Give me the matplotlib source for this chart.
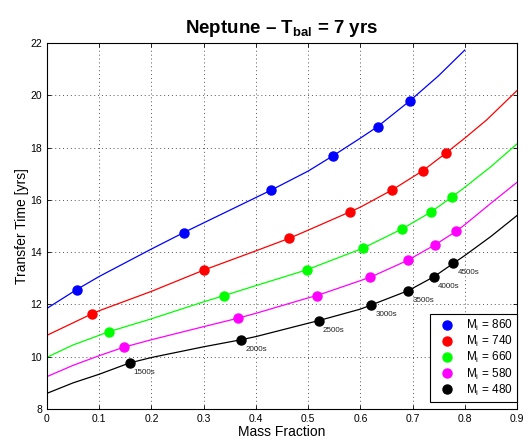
import numpy as np
import matplotlib
matplotlib.use("Agg")
import matplotlib.pyplot as plt

plt.rcParams.update({"font.family": ["Liberation Sans", "DejaVu Sans"],
                     "mathtext.fontset": "custom",
                     "mathtext.rm": "Liberation Sans",
                     "mathtext.it": "Liberation Sans:italic",
                     "mathtext.bf": "Liberation Sans:bold"})

# --- curves (mass fraction, transfer time) ---
x_860 = [0, 0.057, 0.1, 0.2, 0.262, 0.3, 0.429, 0.5, 0.548, 0.6, 0.633, 0.695, 0.75, 0.8]
y_860 = [11.85, 12.57, 13.07, 14.12, 14.75, 15.12, 16.37, 17.1, 17.69, 18.36, 18.8, 19.79, 20.75, 21.73]
x_740 = [0, 0.086, 0.1, 0.2, 0.301, 0.4, 0.464, 0.5, 0.58, 0.6, 0.661, 0.72, 0.764, 0.8, 0.842, 0.9]
y_740 = [10.82, 11.64, 11.76, 12.5, 13.32, 14.05, 14.53, 14.84, 15.54, 15.72, 16.38, 17.12, 17.79, 18.36, 19.06, 20.18]
x_660 = [0, 0.05, 0.119, 0.2, 0.3, 0.338, 0.4, 0.497, 0.605, 0.68, 0.735, 0.776, 0.8, 0.85, 0.9]
y_660 = [9.98, 10.45, 10.96, 11.45, 12.1, 12.33, 12.72, 13.32, 14.15, 14.89, 15.53, 16.12, 16.48, 17.27, 18.14]
x_580 = [0, 0.05, 0.1, 0.148, 0.2, 0.3, 0.365, 0.4, 0.5, 0.517, 0.619, 0.691, 0.743, 0.783, 0.8, 0.85, 0.9]
y_580 = [9.24, 9.67, 10.04, 10.37, 10.65, 11.15, 11.47, 11.66, 12.25, 12.34, 13.04, 13.69, 14.28, 14.79, 15.05, 15.87, 16.67]
x_480 = [0, 0.05, 0.1, 0.158, 0.2, 0.3, 0.372, 0.4, 0.5, 0.52, 0.6, 0.621, 0.692, 0.741, 0.778, 0.8, 0.85, 0.9]
y_480 = [8.6, 9.0, 9.33, 9.76, 9.97, 10.38, 10.65, 10.77, 11.28, 11.38, 11.82, 11.98, 12.53, 13.06, 13.57, 13.87, 14.6, 15.4]

# --- markers ---
mx_860 = [0.057, 0.262, 0.429, 0.548, 0.633, 0.695]
my_860 = [12.57, 14.75, 16.37, 17.69, 18.8, 19.79]
mx_740 = [0.086, 0.301, 0.464, 0.58, 0.661, 0.72, 0.764]
my_740 = [11.64, 13.32, 14.53, 15.54, 16.38, 17.12, 17.79]
mx_660 = [0.119, 0.338, 0.497, 0.605, 0.68, 0.735, 0.776]
my_660 = [10.96, 12.33, 13.32, 14.15, 14.89, 15.53, 16.12]
mx_580 = [0.148, 0.365, 0.517, 0.619, 0.691, 0.743, 0.783]
my_580 = [10.37, 11.47, 12.34, 13.04, 13.69, 14.28, 14.79]
mx_480 = [0.158, 0.372, 0.52, 0.621, 0.692, 0.741, 0.778]
my_480 = [9.76, 10.65, 11.38, 11.98, 12.53, 13.06, 13.57]
time_labels = ["1500s", "2000s", "2500s", "3000s", "3500s", "4000s", "4500s"]

series = [("860", x_860, y_860, mx_860, my_860, "#0000ff"),
          ("740", x_740, y_740, mx_740, my_740, "#ff0000"),
          ("660", x_660, y_660, mx_660, my_660, "#00ff00"),
          ("580", x_580, y_580, mx_580, my_580, "#ff00ff"),
          ("480", x_480, y_480, mx_480, my_480, "#000000")]

fig = plt.figure(figsize=(5.28, 4.46), dpi=100)
ax = fig.add_axes([47/528, 1-409/446, 470/528, 366/446])

handles = []
for lab, xs, ys, mxs, mys, col in series:
    ax.plot(xs, ys, color=col, lw=0.9)
    h, = ax.plot(mxs, mys, "o", color=col, ms=6.5, ls="none",
                 label=r"M$_\mathrm{i}$ = " + lab)
    handles.append(h)

for xv, yv, t in zip(mx_480, my_480, time_labels):
    ax.annotate(t, (xv, yv), xytext=(3, -8), textcoords="offset points",
                fontsize=5.8, color="#222222")

ax.set_xlim(0, 0.9)
ax.set_ylim(8, 22)
ax.set_xticks(np.arange(0, 0.91, 0.1))
ax.set_xticklabels(["0", "0.1", "0.2", "0.3", "0.4", "0.5", "0.6", "0.7", "0.8", "0.9"])
ax.set_yticks(np.arange(8, 23, 2))
ax.tick_params(direction="in", top=True, right=True, labelsize=7.5, length=3, width=0.6)
ax.grid(True, ls=(0, (1, 3)), color="#555555", lw=0.7)
for s in ax.spines.values():
    s.set_linewidth(0.8)

ax.set_xlabel("Mass Fraction", fontsize=10, labelpad=1)
ax.set_ylabel("Transfer Time [yrs]", fontsize=10, labelpad=1)
ax.set_title(r"Neptune – T$_\mathbf{bal}$ = 7 yrs", fontsize=13.5, fontweight="bold", pad=7)

leg = ax.legend(handles=handles, loc="lower right", fontsize=8.5, frameon=True,
                fancybox=False, edgecolor="black", framealpha=1, handletextpad=0.5,
                borderpad=0.35, labelspacing=0.08, handlelength=2.2,
                bbox_to_anchor=(1.0, 0.02), borderaxespad=0)
leg.get_frame().set_linewidth(0.8)

fig.savefig("out.png", dpi=100)
